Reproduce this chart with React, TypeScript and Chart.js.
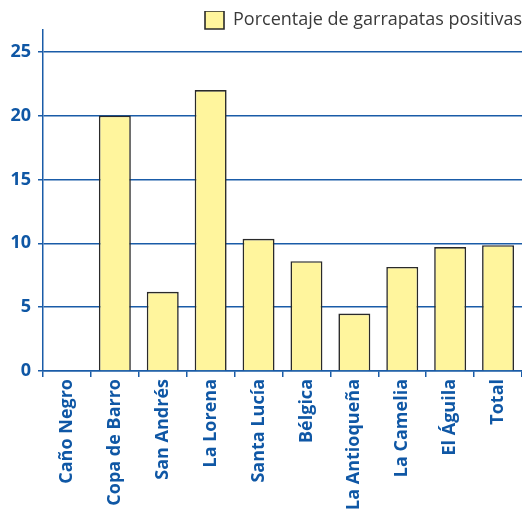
import React, { useEffect, useRef } from "react";
import { Chart, registerables } from "chart.js";

Chart.register(...registerables);

const categories = [
  "Caño Negro",
  "Copa de Barro",
  "San Andrés",
  "La Lorena",
  "Santa Lucía",
  "Bélgica",
  "La Antioqueña",
  "La Camelia",
  "El Águila",
  "Total",
];
const positivePct = [0, 20.0, 6.2, 22.0, 10.35, 8.6, 4.5, 8.15, 9.7, 9.85];
const yTickValues = [0, 5, 10, 15, 20, 25];
const seriesLabel = "Porcentaje de garrapatas positivas";

const BLUE = "#1a5ca8";
const TICK_BLUE = "#0f57a5";

export default function App() {
  const ref = useRef<HTMLCanvasElement | null>(null);
  useEffect(() => {
    document.body.style.margin = "0";
    if (!ref.current) return;
    const chart = new Chart(ref.current, {
      type: "bar",
      data: {
        labels: categories,
        datasets: [
          {
            label: seriesLabel,
            data: positivePct,
            backgroundColor: "#fff59d",
            borderColor: "#2a2a2a",
            borderWidth: 1.6,
            barPercentage: 0.667,
            categoryPercentage: 1,
          },
        ],
      },
      options: {
        responsive: false,
        animation: false,
        layout: { padding: { top: 11, left: 0, right: 0, bottom: 0 } },
        plugins: {
          tooltip: { enabled: false },
          legend: {
            position: "top",
            align: "end",
            maxHeight: 19,
            labels: {
              boxWidth: 19,
              boxHeight: 18,
              padding: 0,
              color: "#3a3a3a",
              font: { family: "'Open Sans'", size: 18, weight: "normal" },
            },
          },
        },
        scales: {
          x: {
            afterFit: (s: any) => {
              s.height = 139;
            },
            grid: {
              drawOnChartArea: false,
              drawTicks: true,
              tickLength: 6,
              color: BLUE,
              lineWidth: 1.5,
              offset: true,
            },
            border: { color: BLUE, width: 1.5 },
            ticks: {
              autoSkip: false,
              minRotation: 90,
              maxRotation: 90,
              padding: 2,
              color: TICK_BLUE,
              font: { family: "'Open Sans'", size: 18, weight: "bold" },
            },
          },
          y: {
            min: 0,
            max: 26.7,
            afterBuildTicks: (s: any) => {
              s.ticks = yTickValues.map((v) => ({ value: v }));
            },
            afterFit: (s: any) => {
              s.width = 43;
            },
            grid: {
              color: BLUE,
              lineWidth: 1.5,
              tickLength: 5,
              drawTicks: true,
            },
            border: { color: BLUE, width: 1.5 },
            ticks: {
              padding: 7,
              color: TICK_BLUE,
              font: { family: "'Open Sans'", size: 18, weight: "bold" },
            },
          },
        },
      },
    });
    return () => chart.destroy();
  }, []);
  return (
    <div style={{ width: 522, height: 510 }}>
      <canvas ref={ref} width={522} height={510} />
    </div>
  );
}
